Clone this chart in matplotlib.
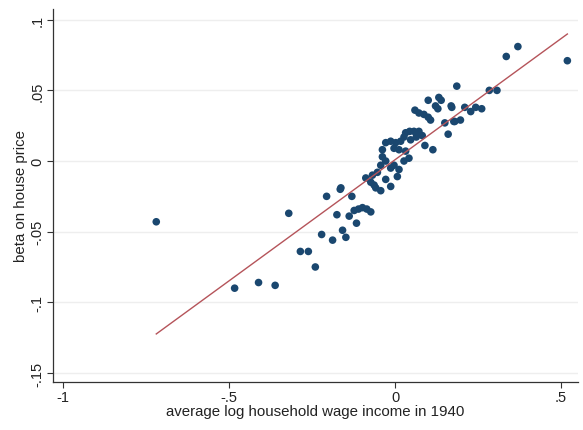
import numpy as np
import matplotlib.pyplot as plt

plt.rcParams['font.family'] = ['Liberation Sans', 'DejaVu Sans']

# average log household wage income in 1940 (x) and beta on house price (y)
income = [
    0.100, 0.132, 0.139, 0.122, 0.129, 0.169, 0.060, 0.072, 0.087, 0.100,
    0.107, 0.150, 0.180, 0.160, 0.090, 0.114, 0.032, 0.044, 0.057, 0.072,
    0.082, 0.064, 0.047, 0.027, 0.017, 0.002, -0.013, -0.028, -0.038, -0.003,
    0.012, 0.032, 0.042, 0.027, -0.038, -0.028, -0.043, -0.013, -0.003, 0.012,
    0.007, -0.053, -0.068, -0.088, -0.073, -0.063, -0.058, -0.043, -0.028, -0.013,
    -0.163, -0.130,
    0.519, 0.370, 0.335, 0.186, 0.284, 0.307, 0.210, 0.228, 0.243, 0.261,
    0.197, 0.177, 0.171,
    -0.320, -0.206, -0.165, -0.175, -0.138, -0.123, -0.110, -0.098, -0.085, -0.073,
    -0.116, -0.221, -0.188, -0.158, -0.148, -0.285, -0.261, -0.240,
    -0.719, -0.483, -0.411, -0.361,
]
beta = [
    0.043, 0.045, 0.043, 0.039, 0.037, 0.039, 0.036, 0.034, 0.033, 0.031,
    0.029, 0.027, 0.028, 0.019, 0.011, 0.008, 0.020, 0.021, 0.021, 0.021,
    0.018, 0.017, 0.015, 0.017, 0.014, 0.013, 0.014, 0.013, 0.008, 0.009,
    0.008, 0.007, 0.002, 0.000, 0.003, 0.000, -0.003, -0.005, -0.003, -0.006,
    -0.011, -0.008, -0.010, -0.012, -0.015, -0.017, -0.019, -0.021, -0.013, -0.018,
    -0.019, -0.025,
    0.071, 0.081, 0.074, 0.053, 0.050, 0.050, 0.038, 0.035, 0.038, 0.037,
    0.029, 0.028, 0.038,
    -0.037, -0.025, -0.020, -0.038, -0.039, -0.035, -0.034, -0.033, -0.034, -0.036,
    -0.044, -0.052, -0.056, -0.049, -0.054, -0.064, -0.064, -0.075,
    -0.043, -0.090, -0.086, -0.088,
]

# fitted line ends
fit_x = [-0.719, 0.519]
fit_y = [-0.1224, 0.0899]

xticks = [-1, -0.5, 0, 0.5]
xticklabels = ['-1', '-.5', '0', '.5']
yticks = [-0.15, -0.1, -0.05, 0, 0.05, 0.1]
yticklabels = ['-.15', '-.1', '-.05', '0', '.05', '.1']

fig = plt.figure(figsize=(5.83, 4.31), dpi=100)
ax = fig.add_axes([0.0909, 0.1114, 0.9005, 0.8654])

ax.scatter(income, beta, s=30, color='#1a476f', edgecolors='none', zorder=3)
ax.plot(fit_x, fit_y, color='#b5545a', lw=1.0, zorder=4)

ax.set_xlim(-1.03, 0.551)
ax.set_ylim(-0.1564, 0.1076)
ax.set_xticks(xticks)
ax.set_xticklabels(xticklabels)
ax.set_yticks(yticks)
ax.set_yticklabels(yticklabels, rotation=90, va='center')
ax.yaxis.grid(True, color='#eeeeee', lw=1.0)
ax.set_axisbelow(True)

for s in ['top', 'right']:
    ax.spines[s].set_visible(False)
for s in ['left', 'bottom']:
    ax.spines[s].set_color('#333333')
    ax.spines[s].set_linewidth(0.9)
ax.tick_params(direction='out', length=4, width=0.8, color='#333333',
               labelsize=10.5, labelcolor='#222222', pad=2)

ax.set_xlabel('average log household wage income in 1940', fontsize=10.8,
              color='#222222', labelpad=0)
ax.set_ylabel('beta on house price', fontsize=10.8, color='#222222', labelpad=2)

fig.savefig('out.png', dpi=100)
